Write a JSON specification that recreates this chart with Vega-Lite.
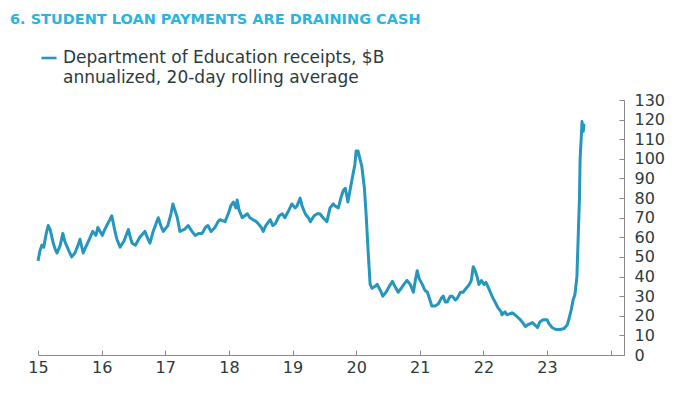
{
  "$schema": "https://vega.github.io/schema/vega-lite/v6.json",
  "width": 586,
  "height": 255,
  "autosize": {"type": "none"},
  "padding": {"left": 38, "top": 100, "right": 56, "bottom": 39},
  "background": "white",
  "title": {
    "text": "6.  STUDENT LOAN PAYMENTS ARE DRAINING CASH",
    "anchor": "start",
    "frame": "group",
    "dx": -28,
    "offset": 22,
    "fontSize": 14.5,
    "fontWeight": "bold",
    "color": "#2ab4df",
    "font": "DejaVu Sans"
  },
  "config": {
    "view": {"stroke": null},
    "axis": {"grid": false, "title": null, "labelFont": "DejaVu Sans", "labelFontSize": 16, "labelColor": "#2b3b3d", "domainColor": "#8a8a8a", "tickColor": "#8a8a8a", "tickSize": -5}
  },
  "data": {
    "values": [
      {"t": 15.00, "v": 48}, {"t": 15.03, "v": 53}, {"t": 15.06, "v": 56}, {"t": 15.09, "v": 55}, {"t": 15.13, "v": 62},
      {"t": 15.16, "v": 66}, {"t": 15.19, "v": 64}, {"t": 15.24, "v": 57}, {"t": 15.27, "v": 54}, {"t": 15.30, "v": 52},
      {"t": 15.35, "v": 56}, {"t": 15.39, "v": 62}, {"t": 15.42, "v": 58}, {"t": 15.46, "v": 55}, {"t": 15.50, "v": 52},
      {"t": 15.53, "v": 50}, {"t": 15.58, "v": 52}, {"t": 15.63, "v": 56}, {"t": 15.66, "v": 59}, {"t": 15.71, "v": 52},
      {"t": 15.75, "v": 55}, {"t": 15.82, "v": 60}, {"t": 15.86, "v": 63}, {"t": 15.91, "v": 61}, {"t": 15.94, "v": 65},
      {"t": 16.01, "v": 61}, {"t": 16.05, "v": 64}, {"t": 16.08, "v": 66}, {"t": 16.13, "v": 69}, {"t": 16.16, "v": 71},
      {"t": 16.21, "v": 63}, {"t": 16.24, "v": 59}, {"t": 16.29, "v": 55}, {"t": 16.35, "v": 58}, {"t": 16.42, "v": 64},
      {"t": 16.45, "v": 60}, {"t": 16.48, "v": 57}, {"t": 16.53, "v": 56}, {"t": 16.60, "v": 60}, {"t": 16.68, "v": 63},
      {"t": 16.73, "v": 59}, {"t": 16.76, "v": 57}, {"t": 16.81, "v": 63}, {"t": 16.89, "v": 70}, {"t": 16.93, "v": 66},
      {"t": 16.97, "v": 63}, {"t": 17.04, "v": 66}, {"t": 17.09, "v": 72}, {"t": 17.12, "v": 77}, {"t": 17.15, "v": 74},
      {"t": 17.19, "v": 70}, {"t": 17.23, "v": 63}, {"t": 17.30, "v": 64}, {"t": 17.36, "v": 66}, {"t": 17.42, "v": 63},
      {"t": 17.47, "v": 61}, {"t": 17.53, "v": 62}, {"t": 17.58, "v": 62}, {"t": 17.63, "v": 65}, {"t": 17.67, "v": 66},
      {"t": 17.72, "v": 63}, {"t": 17.78, "v": 65}, {"t": 17.83, "v": 68}, {"t": 17.86, "v": 69}, {"t": 17.94, "v": 68},
      {"t": 17.99, "v": 72}, {"t": 18.03, "v": 76}, {"t": 18.07, "v": 78}, {"t": 18.11, "v": 75}, {"t": 18.13, "v": 79},
      {"t": 18.16, "v": 74}, {"t": 18.21, "v": 70}, {"t": 18.25, "v": 71}, {"t": 18.29, "v": 72}, {"t": 18.33, "v": 70},
      {"t": 18.38, "v": 69}, {"t": 18.43, "v": 68}, {"t": 18.46, "v": 67}, {"t": 18.51, "v": 65}, {"t": 18.54, "v": 63},
      {"t": 18.58, "v": 66}, {"t": 18.65, "v": 69}, {"t": 18.69, "v": 66}, {"t": 18.73, "v": 67}, {"t": 18.79, "v": 71},
      {"t": 18.84, "v": 72}, {"t": 18.88, "v": 70}, {"t": 18.93, "v": 73}, {"t": 18.99, "v": 77}, {"t": 19.04, "v": 75},
      {"t": 19.07, "v": 76}, {"t": 19.12, "v": 80}, {"t": 19.15, "v": 76}, {"t": 19.20, "v": 72}, {"t": 19.25, "v": 70},
      {"t": 19.28, "v": 68}, {"t": 19.34, "v": 71}, {"t": 19.39, "v": 72}, {"t": 19.43, "v": 72}, {"t": 19.48, "v": 70},
      {"t": 19.54, "v": 68}, {"t": 19.59, "v": 75}, {"t": 19.64, "v": 77}, {"t": 19.67, "v": 76}, {"t": 19.72, "v": 75},
      {"t": 19.76, "v": 80}, {"t": 19.80, "v": 84}, {"t": 19.83, "v": 85}, {"t": 19.86, "v": 80}, {"t": 19.87, "v": 78},
      {"t": 19.91, "v": 85}, {"t": 19.95, "v": 92}, {"t": 19.98, "v": 97}, {"t": 20.00, "v": 104}, {"t": 20.02, "v": 102},
      {"t": 20.03, "v": 104}, {"t": 20.06, "v": 100}, {"t": 20.09, "v": 96}, {"t": 20.13, "v": 85}, {"t": 20.16, "v": 70},
      {"t": 20.19, "v": 52}, {"t": 20.22, "v": 36}, {"t": 20.25, "v": 34}, {"t": 20.30, "v": 35}, {"t": 20.33, "v": 36},
      {"t": 20.38, "v": 33}, {"t": 20.42, "v": 30}, {"t": 20.47, "v": 32}, {"t": 20.52, "v": 35}, {"t": 20.57, "v": 37.5},
      {"t": 20.61, "v": 35}, {"t": 20.66, "v": 32}, {"t": 20.71, "v": 34}, {"t": 20.75, "v": 36}, {"t": 20.80, "v": 38},
      {"t": 20.85, "v": 36}, {"t": 20.90, "v": 32}, {"t": 20.93, "v": 38}, {"t": 20.96, "v": 43}, {"t": 20.99, "v": 39},
      {"t": 21.04, "v": 36}, {"t": 21.08, "v": 33}, {"t": 21.12, "v": 32}, {"t": 21.16, "v": 28}, {"t": 21.19, "v": 25},
      {"t": 21.24, "v": 25}, {"t": 21.29, "v": 26}, {"t": 21.34, "v": 29}, {"t": 21.37, "v": 30}, {"t": 21.40, "v": 27},
      {"t": 21.43, "v": 27}, {"t": 21.48, "v": 30}, {"t": 21.51, "v": 30}, {"t": 21.56, "v": 28}, {"t": 21.59, "v": 29},
      {"t": 21.64, "v": 32}, {"t": 21.68, "v": 32}, {"t": 21.73, "v": 34}, {"t": 21.78, "v": 36}, {"t": 21.81, "v": 38},
      {"t": 21.84, "v": 45}, {"t": 21.87, "v": 43}, {"t": 21.90, "v": 40}, {"t": 21.93, "v": 36}, {"t": 21.97, "v": 38},
      {"t": 22.01, "v": 36}, {"t": 22.04, "v": 37}, {"t": 22.07, "v": 35}, {"t": 22.11, "v": 32}, {"t": 22.15, "v": 29},
      {"t": 22.20, "v": 26}, {"t": 22.23, "v": 24}, {"t": 22.28, "v": 22}, {"t": 22.29, "v": 20.5}, {"t": 22.34, "v": 22},
      {"t": 22.37, "v": 20.5}, {"t": 22.41, "v": 21}, {"t": 22.45, "v": 21.5}, {"t": 22.48, "v": 21}, {"t": 22.53, "v": 19.5},
      {"t": 22.58, "v": 18}, {"t": 22.63, "v": 16}, {"t": 22.66, "v": 14.5}, {"t": 22.70, "v": 15.5}, {"t": 22.77, "v": 16.5},
      {"t": 22.82, "v": 15}, {"t": 22.85, "v": 14}, {"t": 22.89, "v": 17}, {"t": 22.94, "v": 18}, {"t": 23.00, "v": 18},
      {"t": 23.03, "v": 16}, {"t": 23.08, "v": 14}, {"t": 23.14, "v": 13}, {"t": 23.21, "v": 13}, {"t": 23.27, "v": 13.5},
      {"t": 23.32, "v": 15.5}, {"t": 23.35, "v": 19}, {"t": 23.38, "v": 23}, {"t": 23.41, "v": 28}, {"t": 23.44, "v": 31},
      {"t": 23.47, "v": 40}, {"t": 23.49, "v": 60}, {"t": 23.51, "v": 80}, {"t": 23.52, "v": 100}, {"t": 23.54, "v": 112},
      {"t": 23.55, "v": 119}, {"t": 23.57, "v": 114}, {"t": 23.58, "v": 118}
    ]
  },
  "mark": {"type": "line", "strokeWidth": 3, "strokeJoin": "round"},
  "encoding": {
    "x": {
      "field": "t",
      "type": "quantitative",
      "scale": {"domain": [15, 24.21], "nice": false, "zero": false},
      "axis": {"values": [15, 16, 17, 18, 19, 20, 21, 22, 23, 24], "labelExpr": "datum.value >= 24 ? '' : datum.value", "labelPadding": 9, "labelFlush": false}
    },
    "y": {
      "field": "v",
      "type": "quantitative",
      "scale": {"domain": [0, 130], "nice": false},
      "axis": {"orient": "right", "values": [0, 10, 20, 30, 40, 50, 60, 70, 80, 90, 100, 110, 120, 130], "labelPadding": 15}
    },
    "color": {
      "datum": "Department of Education receipts, $B",
      "type": "nominal",
      "scale": {"domain": ["Department of Education receipts, $B", "annualized, 20-day rolling average"], "range": ["#2596be", "transparent"]},
      "legend": {
        "orient": "none",
        "legendX": 2,
        "legendY": -51,
        "title": null,
        "padding": 0,
        "symbolType": "stroke",
        "symbolSize": 225,
        "symbolStrokeWidth": 2.6,
        "labelFont": "DejaVu Sans",
        "labelFontSize": 17,
        "labelColor": "#2b3b3d",
        "labelOffset": 5,
        "labelLimit": 500,
        "rowPadding": 3
      }
    }
  }
}
